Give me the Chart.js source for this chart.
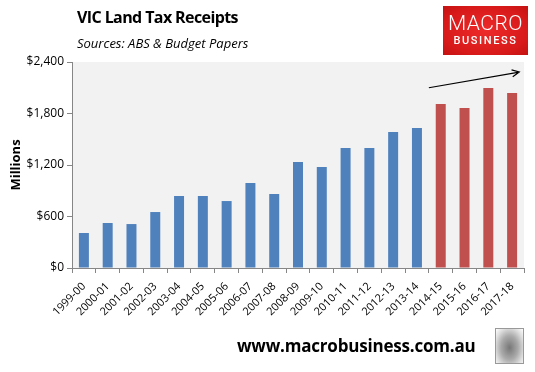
<!DOCTYPE html>
<html>
<head>
<meta charset="utf-8">
<script src="https://cdn.jsdelivr.net/npm/chart.js@4.4.1/dist/chart.umd.min.js"></script>
<style>
  html, body { margin: 0; padding: 0; background: #fff; }
  #wrap { position: relative; width: 535px; height: 372px; overflow: hidden; font-family: "Open Sans", "Noto Sans", sans-serif; }
  #chart { position: absolute; left: 0; top: 0; }
  .title { position: absolute; left: 77px; top: 6px; font-size: 16px; font-weight: bold; color: #000; letter-spacing: -0.6px; }
  .sub { position: absolute; left: 77px; top: 34px; font-size: 13px; font-style: italic; color: #000; }
  .logo { position: absolute; left: 443px; top: 6px; width: 85px; height: 49px;
          background: radial-gradient(ellipse at center, #ee2a2a 0%, #d81a1a 70%, #c41212 100%); color: #fff; text-align: center; }
  .logo .m { font-family: "Roboto", sans-serif; font-weight: 300; font-size: 21px; line-height: 21px; margin-top: 7px; letter-spacing: 0.5px; }
  .logo .b { font-family: "Roboto", sans-serif; font-weight: 500; font-size: 11px; line-height: 13px; letter-spacing: 1.6px; }
  .foot { position: absolute; left: 237px; top: 334px; font-size: 17px; font-weight: bold; color: #000; letter-spacing: -0.2px; }
  .wolf { position: absolute; left: 495px; top: 328px; width: 27px; height: 34px; border: 1px solid #999;
          background: radial-gradient(ellipse at 50% 55%, #777 0%, #aaa 45%, #ddd 75%, #fff 100%); }
</style>
</head>
<body>
<div id="wrap">
  <canvas id="chart" width="535" height="372"></canvas>
  <div class="title">VIC Land Tax Receipts</div>
  <div class="sub">Sources: ABS &amp; Budget Papers</div>
  <div class="logo"><div class="m">MACRO</div><div class="b">BUSINESS</div></div>
  <div class="foot">www.macrobusiness.com.au</div>
  <div class="wolf"></div>
</div>
<script>
var years = ['1999-00','2000-01','2001-02','2002-03','2003-04','2004-05','2005-06','2006-07','2007-08','2008-09',
             '2009-10','2010-11','2011-12','2012-13','2013-14','2014-15','2015-16','2016-17','2017-18'];
var receipts = [408, 524, 512, 652, 839, 839, 780, 990, 862, 1235, 1177, 1398, 1398, 1584, 1631, 1911, 1864, 2097, 2039];
var forecastFrom = '2014-15';
var yTicks = [0, 600, 1200, 1800, 2400];
// trend arrow, in data units: [category index, value]
var arrowFrom = [14.5, 2100];
var arrowTo = [18.3, 2283];

var BLUE = '#4F81BD', RED = '#C0504D';
var firstForecast = years.indexOf(forecastFrom);
var barColors = years.map(function(y, i){ return i >= firstForecast ? RED : BLUE; });

var plotBg = {
  id: 'plotBg',
  beforeDraw: function(chart){
    var a = chart.chartArea, ctx = chart.ctx;
    ctx.save();
    ctx.fillStyle = '#F2F2F2';
    ctx.fillRect(a.left, a.top, a.right - a.left, a.bottom - a.top);
    ctx.restore();
  }
};

var trendArrow = {
  id: 'trendArrow',
  afterDatasetsDraw: function(chart){
    var xs = chart.scales.x, ys = chart.scales.y, ctx = chart.ctx;
    var x1 = xs.getPixelForValue(arrowFrom[0]), y1 = ys.getPixelForValue(arrowFrom[1]);
    var x2 = xs.getPixelForValue(arrowTo[0]), y2 = ys.getPixelForValue(arrowTo[1]);
    var ang = Math.atan2(y2 - y1, x2 - x1), h = 8;
    ctx.save();
    ctx.strokeStyle = '#000';
    ctx.lineWidth = 1.2;
    ctx.beginPath();
    ctx.moveTo(x1, y1); ctx.lineTo(x2, y2);
    ctx.moveTo(x2 - h * Math.cos(ang - 0.45), y2 - h * Math.sin(ang - 0.45));
    ctx.lineTo(x2, y2);
    ctx.lineTo(x2 - h * Math.cos(ang + 0.45), y2 - h * Math.sin(ang + 0.45));
    ctx.stroke();
    ctx.restore();
  }
};

const config = {
  type: 'bar',
  data: {
    labels: years,
    datasets: [{
      label: 'Land tax receipts',
      data: receipts,
      backgroundColor: barColors,
      barPercentage: 0.42,
      categoryPercentage: 1.0
    }]
  },
  options: {
    responsive: false,
    animation: false,
    layout: { padding: { top: 62, right: 11, left: 6, bottom: 0 } },
    plugins: { legend: { display: false }, tooltip: { enabled: false } },
    scales: {
      x: {
        offset: true,
        grid: { display: true, offset: true, drawOnChartArea: false, tickLength: 5, color: '#868686' },
        border: { color: '#868686' },
        ticks: { color: '#000', font: { family: 'Open Sans', size: 11 }, minRotation: 45, maxRotation: 45, autoSkip: false, padding: 7 },
        afterFit: function(s){ s.height = 104; }
      },
      y: {
        min: 0, max: 2400,
        afterBuildTicks: function(s){ s.ticks = yTicks.map(function(v){ return { value: v }; }); },
        grid: { drawOnChartArea: false, tickLength: 5, color: '#868686' },
        border: { color: '#868686' },
        ticks: {
          color: '#000', font: { family: 'Open Sans', size: 12 }, padding: 3,
          callback: function(v){ return '$' + v.toLocaleString('en-US'); }
        },
        title: { display: true, text: 'Millions', color: '#000', font: { family: 'Open Sans', size: 13, weight: 'bold' }, padding: 2 },
        afterFit: function(s){ s.width = 66; }
      }
    }
  },
  plugins: [plotBg, trendArrow]
};

var vicChart = new Chart(document.getElementById('chart'), config);
</script>
</body>
</html>
